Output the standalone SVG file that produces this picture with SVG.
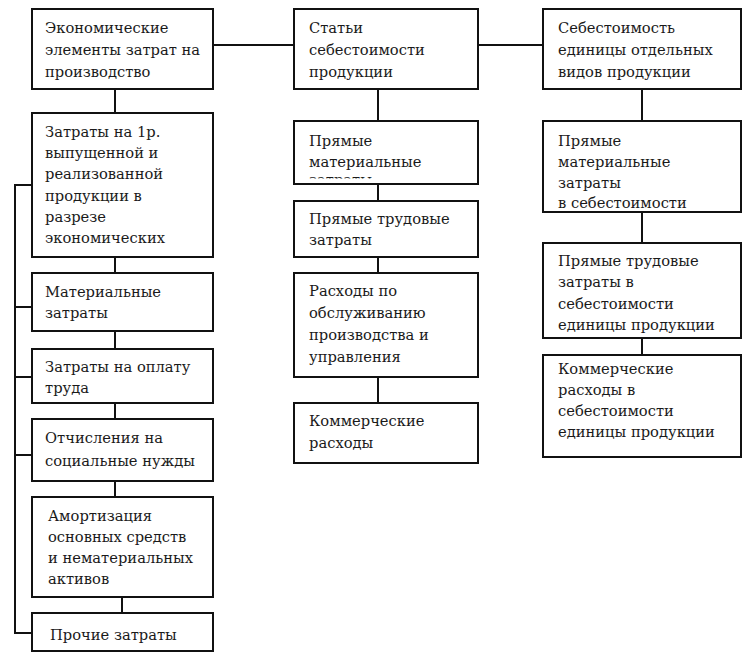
<svg xmlns="http://www.w3.org/2000/svg" width="750" height="654" viewBox="0 0 750 654">
<style>
.box{fill:#fff;stroke:#111;stroke-width:2}
.ln{fill:none;stroke:#111;stroke-width:2}
.t{font-family:"DejaVu Serif","Liberation Serif",serif;font-size:14.7px;fill:#1a1a1a}
</style>
<defs>
<clipPath id="clipM2"><rect x="300" y="175.5" width="120" height="3"/></clipPath>
</defs>
<rect width="750" height="654" fill="#fff"/>
<g id="connectors">
<path class="ln" d="M213,45H294M478,45H543"/>
<path class="ln" d="M115,89V113M115,257V273M115,331V349M115,403V419M115,481V497M122,597V613"/>
<path class="ln" d="M378,89V121M378,184V201M378,257V273M378,377V403"/>
<path class="ln" d="M642,89V121M642,212V243M642,338V355"/>
<path class="ln" d="M32,185H15V633H32M15,307H32M15,377H32M15,455H32"/>
</g>
<g class="t">
<g id="n1"><rect class="box" x="32" y="9" width="181" height="80"/>
<text x="45" y="33">Экономические</text><text x="45" y="55">элементы затрат на</text><text x="45" y="77">производство</text></g>
<g id="n2"><rect class="box" x="32" y="113" width="181" height="144"/>
<text x="45" y="137">Затраты на 1р.</text><text x="45" y="158">выпущенной и</text><text x="45" y="179">реализованной</text><text x="45" y="201">продукции в</text><text x="45" y="222">разрезе</text><text x="45" y="243">экономических</text></g>
<g id="n3"><rect class="box" x="32" y="273" width="181" height="58"/>
<text x="45" y="297">Материальные</text><text x="45" y="318">затраты</text></g>
<g id="n4"><rect class="box" x="32" y="349" width="181" height="54"/>
<text x="45" y="372">Затраты на оплату</text><text x="45" y="393">труда</text></g>
<g id="n5"><rect class="box" x="32" y="419" width="181" height="62"/>
<text x="45" y="443">Отчисления на</text><text x="45" y="466">социальные нужды</text></g>
<g id="n6"><rect class="box" x="32" y="497" width="181" height="100"/>
<text x="48" y="521">Амортизация</text><text x="48" y="542">основных средств</text><text x="48" y="563">и нематериальных</text><text x="48" y="584">активов</text></g>
<g id="n7"><rect class="box" x="32" y="613" width="181" height="38"/>
<text x="50" y="640">Прочие затраты</text></g>
<g id="m1"><rect class="box" x="294" y="9" width="184" height="80"/>
<text x="309" y="33">Статьи</text><text x="309" y="55">себестоимости</text><text x="309" y="77">продукции</text></g>
<g id="m2"><rect class="box" x="294" y="121" width="184" height="63"/>
<text x="309" y="146">Прямые</text><text x="309" y="167">материальные</text><text x="309" y="184.5" clip-path="url(#clipM2)">затраты</text></g>
<g id="m3"><rect class="box" x="294" y="201" width="184" height="56"/>
<text x="309" y="224">Прямые трудовые</text><text x="309" y="245">затраты</text></g>
<g id="m4"><rect class="box" x="294" y="273" width="184" height="104"/>
<text x="309" y="296">Расходы по</text><text x="309" y="318">обслуживанию</text><text x="309" y="340">производства и</text><text x="309" y="362">управления</text></g>
<g id="m5"><rect class="box" x="294" y="403" width="184" height="60"/>
<text x="309" y="426">Коммерческие</text><text x="309" y="448">расходы</text></g>
<g id="r1"><rect class="box" x="543" y="9" width="198" height="80"/>
<text x="558" y="33">Себестоимость</text><text x="558" y="55">единицы отдельных</text><text x="558" y="77">видов продукции</text></g>
<g id="r2"><rect class="box" x="543" y="121" width="198" height="91"/>
<text x="558" y="146">Прямые</text><text x="558" y="167">материальные</text><text x="558" y="188">затраты</text><text x="558" y="208">в себестоимости</text></g>
<g id="r3"><rect class="box" x="543" y="243" width="198" height="95"/>
<text x="558" y="266">Прямые трудовые</text><text x="558" y="287">затраты в</text><text x="558" y="309">себестоимости</text><text x="558" y="330">единицы продукции</text></g>
<g id="r4"><rect class="box" x="543" y="355" width="198" height="102"/>
<text x="558" y="374">Коммерческие</text><text x="558" y="395">расходы в</text><text x="558" y="416">себестоимости</text><text x="558" y="437">единицы продукции</text></g>
</g>
</svg>
